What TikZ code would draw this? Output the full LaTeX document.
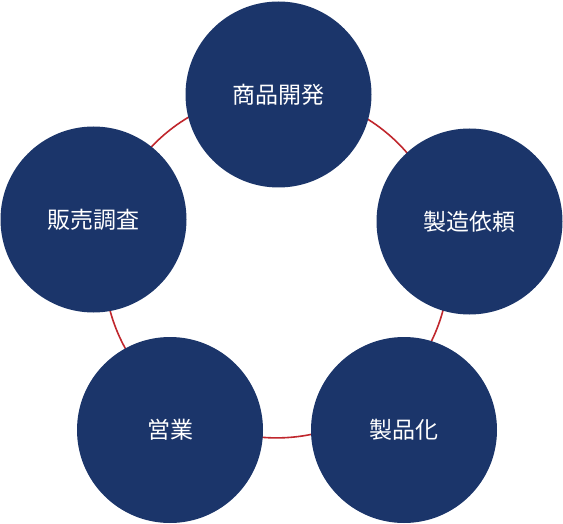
\documentclass[tikz,border=0pt]{standalone}
\usepackage{fontspec}
\newfontfamily\jpfont{Noto Sans CJK JP}
\definecolor{navy}{RGB}{27,53,106}
\definecolor{ringred}{RGB}{192,39,45}
\begin{document}
\begin{tikzpicture}[x=1pt,y=-1pt,
  stage/.style={circle,fill=navy,draw=none,minimum size=186pt,inner sep=0pt,
    text=white,font=\jpfont\fontsize{23}{28}\selectfont},
  ring/.style={draw=ringred,line width=1.6pt}]
\useasboundingbox (0,0) rectangle (563,524);
\coordinate (c) at (276.5,265.5);
\draw[ring] (c) circle[radius=172.4pt];
\node[stage] (kaihatsu) at (278.5,94.5) {商品開発};
\node[stage] (irai) at (469.5,221.5) {製造依頼};
\node[stage] (seihin) at (404,430) {製品化};
\node[stage] (eigyo) at (170,430) {営業};
\node[stage] (chosa) at (93.5,219.5) {販売調査};
\end{tikzpicture}
\end{document}
